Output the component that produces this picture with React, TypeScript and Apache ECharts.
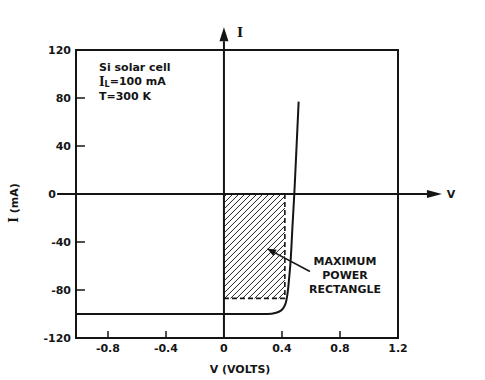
import React, { useEffect, useRef } from 'react';
import * as echarts from 'echarts';

// I–V curve of the Si solar cell (V in volts, I in mA)
const voltage = [-1.02, 0.0, 0.2, 0.3, 0.36, 0.395, 0.415, 0.428, 0.437, 0.445, 0.46, 0.472, 0.485, 0.5, 0.515];
const current = [-100, -100, -100, -100, -99, -97, -94, -90, -84, -76, -55, -28, 0, 38, 77];

// Maximum power point (corner of the hatched rectangle)
const maxPowerPoint = [0.42, -87];

// Annotation arrow: tail -> head (data coordinates)
const annotationArrow = [[0.593, -64.6], [0.297, -45.5]];

// Extents of the drawn I and V axes (with arrow heads)
const iAxisExtent = [-120, 139];
const vAxisExtent = [-1.15, 1.503];

// Axis ticks and labels
const xTickValues = [-0.8, -0.4, 0.4, 0.8];
const xLabelValues = [-0.8, -0.4, 0, 0.4, 0.8, 1.2];
const yTickValues = [-80, -40, 40, 80];
const yLabelValues = [-120, -80, -40, 0, 40, 80, 120];

const infoLines = ['Si solar cell', '{s|I}{sub|L}=100 mA', 'T=300 K'];
const annotationLines = ['MAXIMUM', 'POWER', 'RECTANGLE'];

const INK = '#151515';
const FONT = '"DejaVu Sans", sans-serif';

export default function App() {
  const ref = useRef<HTMLDivElement>(null);
  useEffect(() => {
    if (!ref.current) return;
    const chart = echarts.init(ref.current, undefined, { renderer: 'svg' });

    const labelStyle = { color: INK, fontFamily: FONT, fontWeight: 'bold' as const, fontSize: 11 };

    const renderOverlay = (params: any, api: any) => {
      const c = (v: number, i: number) => api.coord([v, i]);
      const [vm, im] = maxPowerPoint;
      const tl = c(0, 0);
      const br = c(vm, im);
      const children: any[] = [];
      const x0 = tl[0], y0 = tl[1], x1 = br[0], y1 = br[1];
      const step = 6;
      for (let k = x0 + y0 + step / 2; k < x1 + y1; k += step) {
        const xa = Math.max(x0, k - y1);
        const xb = Math.min(x1, k - y0);
        if (xb > xa) {
          children.push({
            type: 'line',
            shape: { x1: xa, y1: k - xa, x2: xb, y2: k - xb },
            style: { stroke: '#222', lineWidth: 1 },
          });
        }
      }
      // dashed edges
      children.push({
        type: 'line',
        shape: { x1: x1, y1: y0, x2: x1, y2: y1 },
        style: { stroke: INK, lineWidth: 1.6, lineDash: [5, 3] },
      });
      children.push({
        type: 'line',
        shape: { x1: x0, y1: y1, x2: x1, y2: y1 },
        style: { stroke: INK, lineWidth: 1.6, lineDash: [5, 3] },
      });
      // I axis with arrow
      const iBot = c(0, iAxisExtent[0]);
      const iTip = c(0, iAxisExtent[1]);
      const ih = 14, iw = 4.5;
      children.push({
        type: 'line',
        shape: { x1: iBot[0], y1: iBot[1], x2: iTip[0], y2: iTip[1] + ih },
        style: { stroke: INK, lineWidth: 2 },
      });
      children.push({
        type: 'polygon',
        shape: { points: [[iTip[0], iTip[1]], [iTip[0] - iw, iTip[1] + ih], [iTip[0] + iw, iTip[1] + ih]] },
        style: { fill: INK },
      });
      children.push({
        type: 'text',
        x: iTip[0] + 16,
        y: iTip[1] + 5,
        style: {
          text: 'I', fill: INK, font: 'bold 13px "DejaVu Serif", serif',
          align: 'center', verticalAlign: 'middle', textAlign: 'center', textVerticalAlign: 'middle',
        },
      });
      // V axis with arrow
      const vL = c(vAxisExtent[0], 0);
      const vTip = c(vAxisExtent[1], 0);
      const vh = 15, vw = 4;
      children.push({
        type: 'line',
        shape: { x1: vL[0], y1: vL[1], x2: vTip[0] - vh, y2: vTip[1] },
        style: { stroke: INK, lineWidth: 2 },
      });
      children.push({
        type: 'polygon',
        shape: { points: [[vTip[0], vTip[1]], [vTip[0] - vh, vTip[1] - vw], [vTip[0] - vh, vTip[1] + vw]] },
        style: { fill: INK },
      });
      children.push({
        type: 'text',
        x: vTip[0] + 9,
        y: vTip[1],
        style: {
          text: 'V', fill: INK, font: 'bold 11px ' + FONT,
          align: 'center', verticalAlign: 'middle', textAlign: 'center', textVerticalAlign: 'middle',
        },
      });
      // annotation arrow
      const tail = c(annotationArrow[0][0], annotationArrow[0][1]);
      const head = c(annotationArrow[1][0], annotationArrow[1][1]);
      const dx = head[0] - tail[0], dy = head[1] - tail[1];
      const len = Math.sqrt(dx * dx + dy * dy);
      const ux = dx / len, uy = dy / len;
      const ah = 9, aw = 3.5;
      const bx = head[0] - ux * ah, by = head[1] - uy * ah;
      children.push({
        type: 'line',
        shape: { x1: tail[0], y1: tail[1], x2: bx, y2: by },
        style: { stroke: INK, lineWidth: 1.6 },
      });
      children.push({
        type: 'polygon',
        shape: { points: [[head[0], head[1]], [bx - uy * aw, by + ux * aw], [bx + uy * aw, by - ux * aw]] },
        style: { fill: INK },
      });
      return { type: 'group', children };
    };

    const option: any = {
      animation: false,
      backgroundColor: '#ffffff',
      grid: {
        left: 76, right: 87, top: 50, bottom: 40,
        show: true, borderColor: INK, borderWidth: 2, backgroundColor: 'transparent',
      },
      xAxis: {
        type: 'value', min: -1.02, max: 1.2,
        axisLine: { show: true, onZero: false, lineStyle: { color: INK, width: 2 } },
        axisTick: { show: true, inside: true, length: 7, customValues: xTickValues, lineStyle: { color: INK, width: 1.5 } },
        axisLabel: { ...labelStyle, customValues: xLabelValues, margin: 5, formatter: (v: number) => String(v) },
        splitLine: { show: false },
        name: 'V (VOLTS)', nameLocation: 'middle', nameGap: 26,
        nameTextStyle: { ...labelStyle, padding: [0, 0, 0, 6] },
      },
      yAxis: {
        type: 'value', min: -120, max: 120,
        axisLine: { show: true, onZero: false, lineStyle: { color: INK, width: 2 } },
        axisTick: { show: true, inside: true, length: 9, customValues: yTickValues, lineStyle: { color: INK, width: 1.5 } },
        axisLabel: {
          ...labelStyle, customValues: yLabelValues, margin: 5,
          formatter: (v: number) => (v === 0 ? '{z|0}' : String(v)),
          rich: { z: { ...labelStyle, padding: [0, 15, 0, 0] } },
        },
        splitLine: { show: false },
      },
      graphic: [
        {
          type: 'text', x: 14, y: 203, rotation: Math.PI / 2,
          style: {
            text: '{s|I} (mA)', fill: INK, font: 'bold 11px ' + FONT,
            textAlign: 'center', textVerticalAlign: 'middle', align: 'center', verticalAlign: 'middle',
            rich: { s: { fontFamily: '"DejaVu Serif", serif', fontWeight: 'bold', fontSize: 12, fill: INK } },
          },
        },
        ...infoLines.map((t, i) => ({
          type: 'text', x: 99, y: 67 + i * 14.5,
          style: {
            text: t, fill: INK, font: 'bold 11px ' + FONT,
            textVerticalAlign: 'middle', verticalAlign: 'middle',
            rich: {
              s: { fontFamily: '"DejaVu Serif", serif', fontWeight: 'bold', fontSize: 12, fill: INK },
              sub: { fontFamily: FONT, fontWeight: 'bold', fontSize: 8, fill: INK, padding: [6, 0, 0, 0] },
            },
          },
        })),
        ...annotationLines.map((t, i) => ({
          type: 'text', x: 345, y: 261 + i * 14,
          style: {
            text: t, fill: INK, font: 'bold 11px ' + FONT,
            textAlign: 'center', textVerticalAlign: 'middle', align: 'center', verticalAlign: 'middle',
          },
        })),
      ],
      series: [
        {
          type: 'custom',
          coordinateSystem: 'cartesian2d',
          clip: false,
          z: 2,
          silent: true,
          data: [[0, 0]],
          renderItem: renderOverlay,
        },
        {
          type: 'line',
          z: 3,
          data: voltage.map((v, i) => [v, current[i]]),
          showSymbol: false,
          smooth: 0.3,
          lineStyle: { color: INK, width: 2 },
          itemStyle: { color: INK },
        },
      ],
    };
    chart.setOption(option);
    return () => chart.dispose();
  }, []);
  return (
    <div
      ref={ref}
      style={{ position: 'fixed', left: 0, top: 0, width: 485, height: 380, background: '#fff' }}
    />
  );
}
